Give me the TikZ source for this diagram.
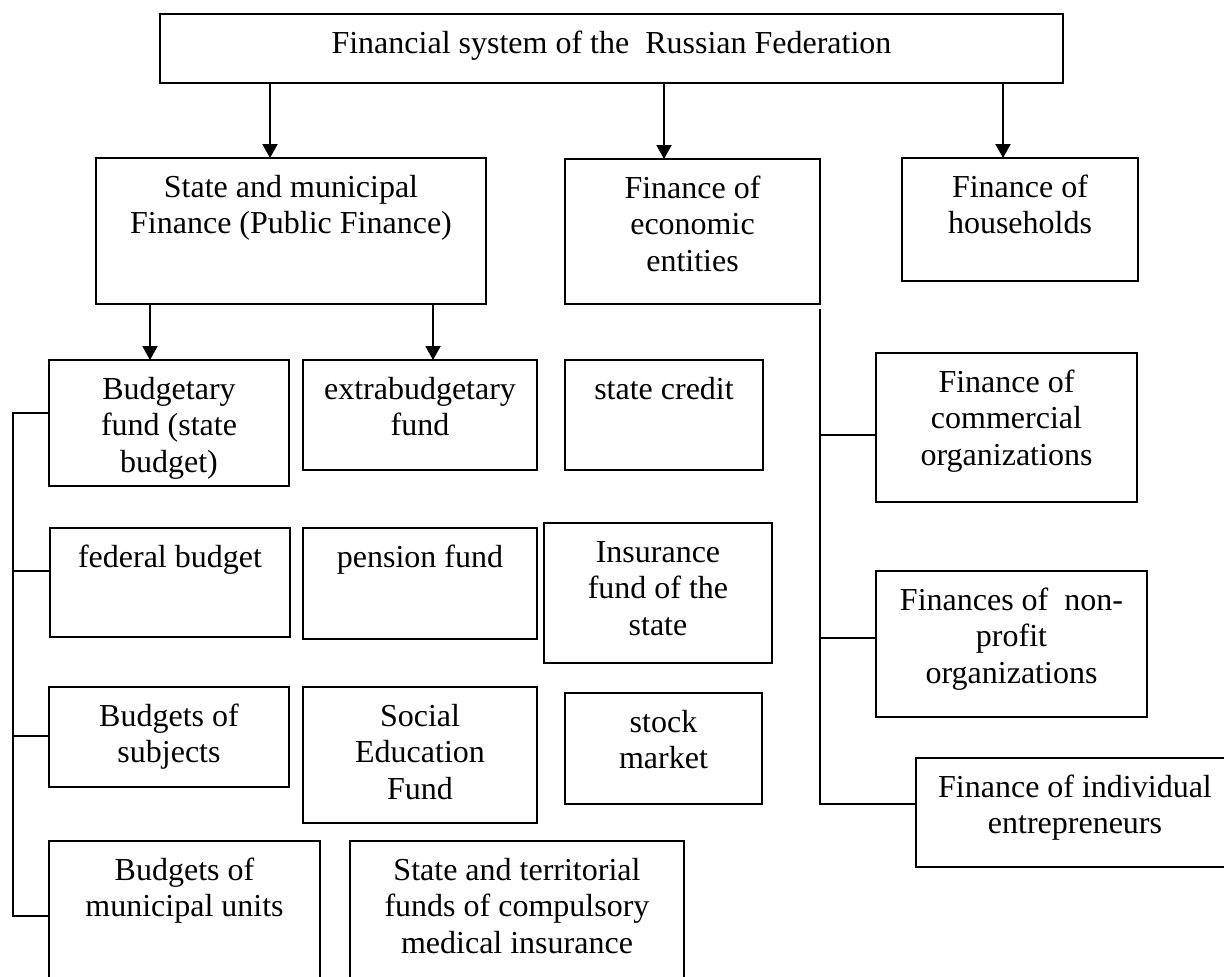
\documentclass[tikz,border=0pt]{standalone}
\usepackage{fontspec}
\setmainfont{Liberation Serif}
\usetikzlibrary{arrows.meta}
% one drawing unit = 0.5pt
\newdimen\px \px=0.5pt
% box contents: width, height (in units), text set from the top
\newcommand{\bx}[3]{\parbox[c][#2\px][t]{#1\px}{\centering\fontsize{16pt}{18.35pt}\selectfont\rule{0pt}{19.5pt}#3\par}}
\begin{document}
\begin{tikzpicture}[x=0.5pt,y=-0.5pt,
  box/.style={draw,line width=1pt,inner sep=0pt,outer sep=0pt,anchor=north west},
  arr/.style={line width=1pt,-{Triangle[length=7pt,width=7.5pt]}},
  link/.style={line width=1pt}]
\clip (0,0) rectangle (1224,976);
\fill[white] (0,0) rectangle (1224,976);

% top level
\node[box] (fs) at (160,14) {\bx{903}{69}{Financial system of the\ \ Russian Federation}};

% second level
\node[box] (pub)   at (96,158)  {\bx{390}{146}{State and municipal\\Finance (Public Finance)}};
\node[box] (econ)  at (565,159) {\bx{255}{145}{Finance of\\economic\\entities}};
\node[box] (house) at (902,158) {\bx{236}{123}{Finance of\\households}};

% public finance branch
\node[box] (budg)  at (49,360)  {\bx{240}{126}{Budgetary\\fund (state\\budget)}};
\node[box] (extra) at (303,360) {\bx{234}{110}{extrabudgetary\\fund}};
\node[box] (cred)  at (565,360) {\bx{198}{110}{state credit}};
\node[box] (fed)   at (50,528)  {\bx{240}{109}{federal budget}};
\node[box] (pens)  at (303,528) {\bx{234}{111}{pension fund}};
\node[box] (ins)   at (544,523) {\bx{228}{140}{Insurance\\fund of the\\state}};
\node[box] (subj)  at (49,687)  {\bx{240}{100}{Budgets of\\subjects}};
\node[box] (soc)   at (303,687) {\bx{234}{136}{Social\\Education\\Fund}};
\node[box] (stock) at (565,693) {\bx{197}{111}{stock\\market}};
\node[box] (muni)  at (49,841)  {\bx{271}{150}{Budgets of\\municipal units}};
\node[box] (terr)  at (350,841) {\bx{334}{150}{State and territorial\\funds of compulsory\\medical insurance}};

% economic entities branch
\node[box] (comm)  at (876,353) {\bx{261}{149}{Finance of\\commercial\\organizations}};
\node[box] (npo)   at (876,571) {\bx{271}{146}{Finances of\ \ non-\\profit\\organizations}};
\node[box] (ent)   at (916,758) {\bx{318}{109}{Finance of individual\\entrepreneurs}};

% arrow columns
\coordinate (a1) at (270,0);
\coordinate (a2) at (664,0);
\coordinate (a3) at (1003,0);
\coordinate (a4) at (150,0);
\coordinate (a5) at (433,0);
\draw[arr] (fs.south -| a1) -- (pub.north -| a1);
\draw[arr] (fs.south -| a2) -- (econ.north -| a2);
\draw[arr] (fs.south -| a3) -- (house.north -| a3);
\draw[arr] (pub.south -| a4) -- (budg.north -| a4);
\draw[arr] (pub.south -| a5) -- (extra.north -| a5);

% left bracket
\coordinate (L)  at (13,0);
\coordinate (t1) at (0,413);
\coordinate (t2) at (0,571);
\coordinate (t3) at (0,736);
\coordinate (t4) at (0,916);
\draw[link] (t1 -| budg.west) -- (t1 -| L) -- (t4 -| L) -- (t4 -| muni.west);
\draw[link] (t2 -| L) -- (t2 -| fed.west);
\draw[link] (t3 -| L) -- (t3 -| subj.west);

% right bracket
\coordinate (R0) at (820,309);
\coordinate (r1) at (0,435);
\coordinate (r2) at (0,638);
\coordinate (r3) at (0,804);
\draw[link] (R0) -- (r3 -| R0) -- (r3 -| ent.west);
\draw[link] (r1 -| R0) -- (r1 -| comm.west);
\draw[link] (r2 -| R0) -- (r2 -| npo.west);
\end{tikzpicture}
\end{document}
